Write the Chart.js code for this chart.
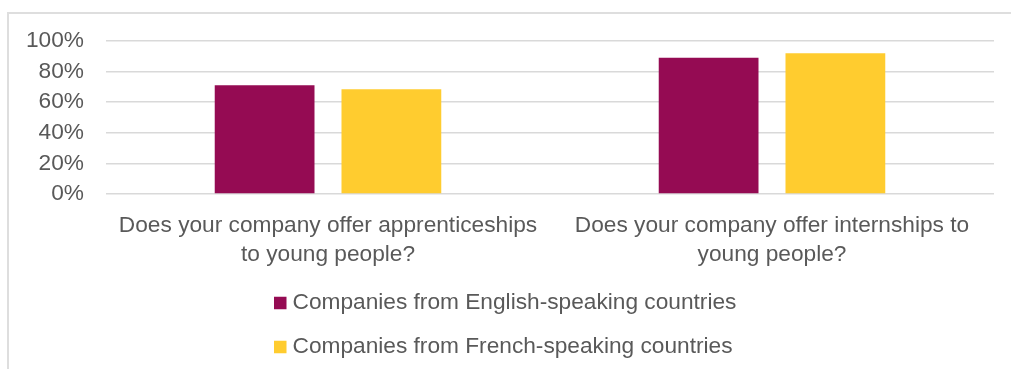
<!DOCTYPE html>
<html>
<head>
<meta charset="utf-8">
<script src="https://cdn.jsdelivr.net/npm/chart.js@4"></script>
<style>
  html, body { margin: 0; padding: 0; background: #fff; }
  #wrap { position: relative; width: 1011px; height: 369px; overflow: hidden; }
  #frame { position: absolute; left: 7px; top: 12px; width: 1100px; height: 400px;
           border-top: 2px solid #dedede; border-left: 2px solid #dedede; }
  canvas { position: absolute; left: 0; top: 0; }
</style>
</head>
<body>
<div id="wrap">
  <div id="frame"></div>
  <canvas id="myChart" width="1011" height="369"></canvas>
</div>
<script>
var categories = [
  ['Does your company offer apprenticeships', 'to young people?'],
  ['Does your company offer internships to', 'young people?']
];
var englishSpeaking = [71, 89];
var frenchSpeaking = [68.5, 92];
var seriesNames = ['Companies from English-speaking countries', 'Companies from French-speaking countries'];
var seriesColors = ['#950b53', '#ffcc2f'];
var yTicks = [0, 20, 40, 60, 80, 100];

var textColor = '#595959';
var fontFamily = '"Liberation Sans", Arial, sans-serif';
var fontSize = 22.7;

// legend stacked in two rows under the axis, like the office chart
var rowLegend = {
  id: 'rowLegend',
  afterDraw: function (chart) {
    var ctx = chart.ctx;
    var sets = chart.data.datasets;
    var box = 12.5, gap = 6;
    ctx.save();
    ctx.font = fontSize + 'px ' + fontFamily;
    var widths = sets.map(function (d) { return box + gap + ctx.measureText(d.label).width; });
    var left = Math.round((chart.width - Math.max.apply(null, widths)) / 2);
    sets.forEach(function (d, i) {
      var cy = chart.chartArea.bottom + 109 + i * 44;
      ctx.fillStyle = d.backgroundColor;
      ctx.fillRect(left, cy - box / 2, box, box);
      ctx.fillStyle = textColor;
      ctx.textBaseline = 'middle';
      ctx.textAlign = 'left';
      ctx.fillText(d.label, left + box + gap, cy);
    });
    ctx.restore();
  }
};

function renderChart() {
  var ctx = document.getElementById('myChart').getContext('2d');
  var font = { family: fontFamily, size: fontSize, lineHeight: 1.28 };

  new Chart(ctx, {
    type: 'bar',
    data: {
      labels: categories,
      datasets: [{
        label: seriesNames[0],
        data: englishSpeaking,
        backgroundColor: seriesColors[0],
        categoryPercentage: 0.571,
        barPercentage: 0.787
      }, {
        label: seriesNames[1],
        data: frenchSpeaking,
        backgroundColor: seriesColors[1],
        categoryPercentage: 0.571,
        barPercentage: 0.787
      }]
    },
    options: {
      responsive: false,
      animation: false,
      layout: { padding: { top: 41, right: 17, bottom: 80, left: 0 } },
      plugins: {
        legend: { display: false },
        tooltip: { enabled: false }
      },
      scales: {
        x: {
          grid: { display: false },
          border: { display: false },
          ticks: { font: font, color: textColor, padding: 9, maxRotation: 0, autoSkip: false },
          afterFit: function (s) { s.height = 95; }
        },
        y: {
          min: 0,
          max: 100,
          grid: { color: '#d9d9d9', lineWidth: 1.5, drawTicks: false },
          border: { display: false },
          ticks: {
            font: { family: fontFamily, size: fontSize },
            color: textColor,
            padding: 22,
            autoSkip: false,
            callback: function (v) { return v + '%'; }
          },
          afterBuildTicks: function (s) { s.ticks = yTicks.map(function (v) { return { value: v }; }); },
          afterFit: function (s) { s.width = 106; }
        }
      }
    },
    plugins: [rowLegend]
  });
}

renderChart();
</script>
</body>
</html>
